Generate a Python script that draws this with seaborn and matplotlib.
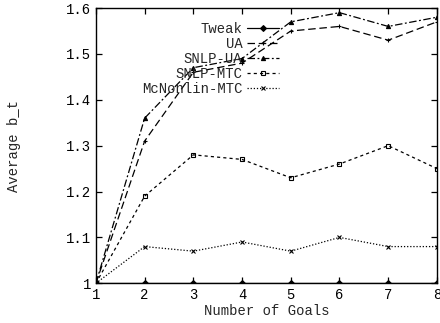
import matplotlib
matplotlib.use("Agg")
import matplotlib.pyplot as plt
import seaborn as sns
import pandas as pd

goals = [1, 2, 3, 4, 5, 6, 7, 8]
tweak = [1.0, 1.0, 1.0, 1.0, 1.0, 1.0, 1.0, 1.0]
ua = [1.0, 1.31, 1.46, 1.48, 1.55, 1.56, 1.53, 1.57]
snlp_ua = [1.0, 1.36, 1.47, 1.49, 1.57, 1.59, 1.56, 1.58]
snlp_mtc = [1.0, 1.19, 1.28, 1.27, 1.23, 1.26, 1.30, 1.25]
mcnonlin_mtc = [1.0, 1.08, 1.07, 1.09, 1.07, 1.10, 1.08, 1.08]

series = [
    ("Tweak", tweak, "-", "D"),
    ("UA", ua, (0, (6, 3)), "+"),
    ("SNLP-UA", snlp_ua, (0, (6, 2, 1.5, 2)), "^"),
    ("SNLP-MTC", snlp_mtc, (0, (2.5, 2.5)), "s"),
    ("McNonlin-MTC", mcnonlin_mtc, (0, (1, 1.5)), "x"),
]

sns.set_style("ticks")
plt.rcParams["font.family"] = ["Liberation Mono", "DejaVu Sans Mono"]

fig, ax = plt.subplots(figsize=(4.4, 3.23), dpi=100)
fig.subplots_adjust(left=0.218, right=0.993, top=0.975, bottom=0.123)

for name, vals, ls, mk in series:
    df = pd.DataFrame({"goals": goals, "value": vals})
    filled = mk in ("D", "^")
    sns.lineplot(data=df, x="goals", y="value", ax=ax, label=name,
                 color="black", linewidth=0.9, linestyle=ls,
                 marker=mk, markersize=3,
                 markerfacecolor="black" if filled else "none",
                 markeredgecolor="black", markeredgewidth=0.8)

ax.set_xlim(1, 8)
ax.set_ylim(1, 1.6)
ax.set_xticks(goals)
ax.set_xticklabels([str(g) for g in goals])
ax.set_yticks([1, 1.1, 1.2, 1.3, 1.4, 1.5, 1.6])
ax.set_yticklabels(["1", "1.1", "1.2", "1.3", "1.4", "1.5", "1.6"])
ax.tick_params(direction="in", top=True, right=True, length=4, width=0.9,
               labelsize=10, colors="black")
for s in ax.spines.values():
    s.set_linewidth(1.0)
    s.set_color("black")

ax.set_xlabel("Number of Goals", fontsize=10, labelpad=1)
ax.set_ylabel("Average b_t", fontsize=10, labelpad=32)

leg = ax.legend(loc="upper right", bbox_to_anchor=(0.56, 0.98), frameon=False,
                markerfirst=False, fontsize=10, handlelength=2.3,
                labelspacing=0.08, borderpad=0.1, handletextpad=0.3)

fig.savefig("out.png", dpi=100)
